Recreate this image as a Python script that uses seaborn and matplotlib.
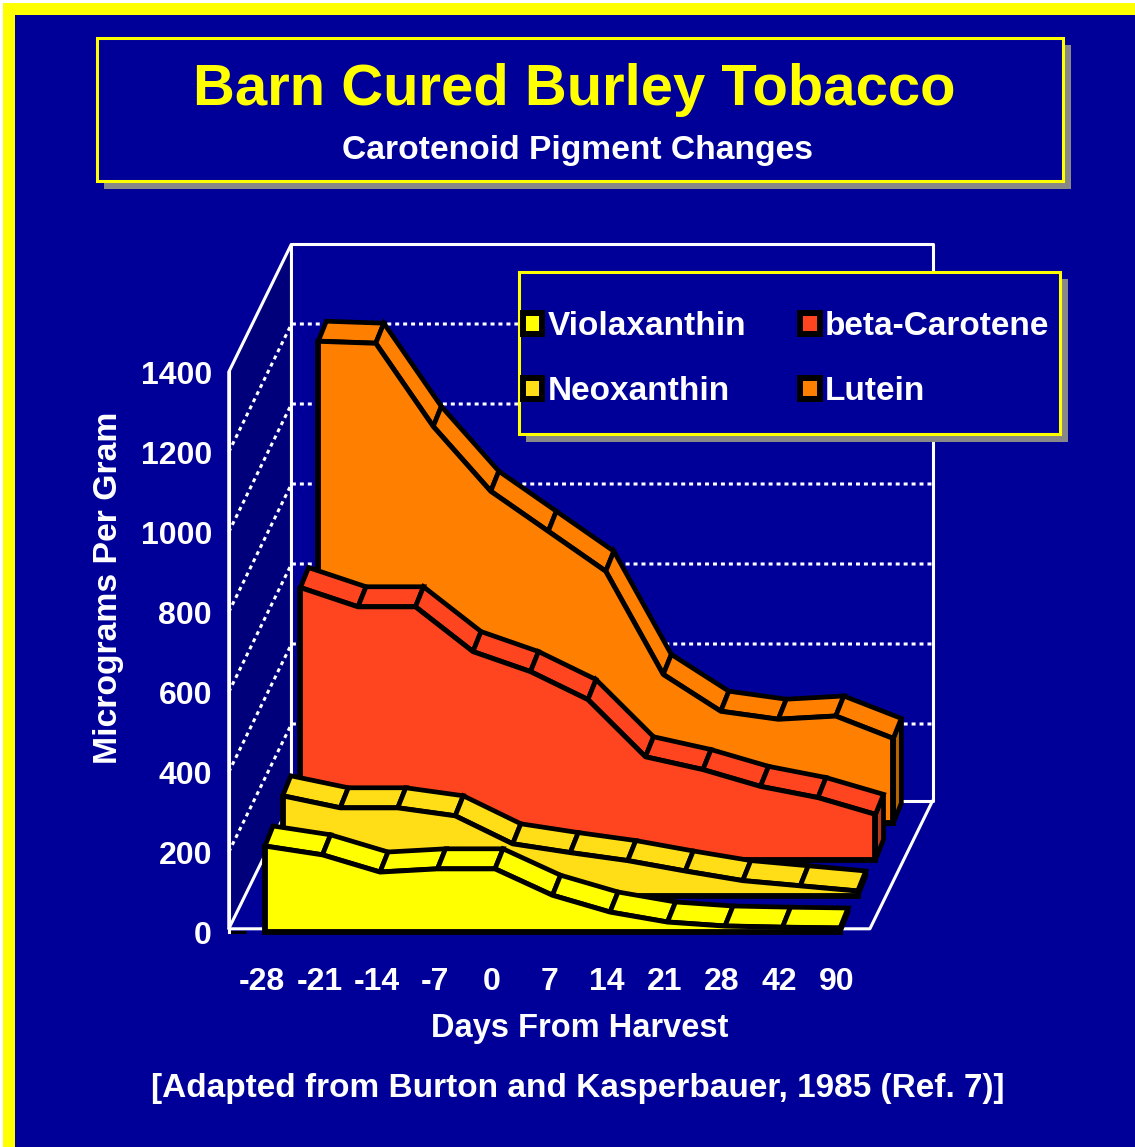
import numpy as np
import pandas as pd
import seaborn as sns
import matplotlib.pyplot as plt
from matplotlib.patches import Polygon, Rectangle, Patch

days = ['-28', '-21', '-14', '-7', '0', '7', '14', '21', '28', '42', '90']
yticks = [0, 200, 400, 600, 800, 1000, 1200, 1400]

# heights, front series first
violaxanthin = [215, 193, 150, 158, 158, 92, 50, 25, 15, 12, 10]
neoxanthin = [250, 220, 220, 200, 130, 108, 88, 62, 38, 25, 12]
beta_carotene = [680, 632, 632, 520, 470, 400, 257, 225, 183, 155, 113]
lutein = [1205, 1200, 992, 830, 730, 630, 372, 280, 260, 268, 212]

names = ['Violaxanthin', 'Neoxanthin', 'beta-Carotene', 'Lutein']
series = [violaxanthin, neoxanthin, beta_carotene, lutein]
colors = ['#ffff00', '#ffde17', '#ff4520', '#ff8000']
side_colors = ['#000000', '#000000', '#b83a1c', '#b86400']

BG = '#000099'
WALL = '#00007a'
W, H = 1135, 1147

# oblique projection: one unit of depth moves this far in data units
DEPTH_X = 1.09
DEPTH_Y = 320
SERIES_Z = [0, 0.283, 0.566, 0.85]
RIB_X = 0.14
RIB_Y = 50
X_LEFT = -0.63
X_RIGHT = 10.52
FLOOR = 8

sns.set_theme(style='white')
plt.rcParams['font.family'] = ['Liberation Sans', 'DejaVu Sans']
plt.rcParams['font.weight'] = 'bold'

fig = plt.figure(figsize=(W / 100, H / 100), dpi=100, facecolor=BG)
ax = fig.add_axes([0, 0, 1, 1], facecolor=BG)
# 57.5 px per category, 0.4 px per microgram
ax.set_xlim(-265 / 57.5, (W - 265) / 57.5)
ax.set_ylim((932 - H) / 0.4, 932 / 0.4)


def pbox(x0, y0, x1, y1, **kw):
    # rectangle given in image pixels, y down
    r = Rectangle((x0 / W, 1 - y1 / H), (x1 - x0) / W, (y1 - y0) / H, transform=fig.transFigure, **kw)
    ax.add_patch(r)
    return r


# outer border, white sliver then yellow
pbox(0, 0, W, 3, fc='white', ec='none', zorder=0.4)
pbox(0, 0, 3, H, fc='white', ec='none', zorder=0.4)
pbox(3, 3, W, 15, fc='#ffff00', ec='none', zorder=0.5)
pbox(3, 3, 15, H, fc='#ffff00', ec='none', zorder=0.5)

# box frame: left wall, back wall, floor
top = yticks[-1]
ax.add_patch(Polygon([(X_LEFT, FLOOR), (X_LEFT, top), (X_LEFT + DEPTH_X, top + DEPTH_Y), (X_LEFT + DEPTH_X, FLOOR + DEPTH_Y)],
                     fc=WALL, ec='white', lw=2.2, zorder=1))
bx0, bx1 = X_LEFT + DEPTH_X, X_RIGHT + DEPTH_X
ax.plot([bx0, bx1, bx1, bx0], [top + DEPTH_Y, top + DEPTH_Y, FLOOR + DEPTH_Y, FLOOR + DEPTH_Y], color='white', lw=2.2, zorder=1)
ax.plot([X_LEFT, X_RIGHT, bx1], [FLOOR, FLOOR, FLOOR + DEPTH_Y], color='white', lw=2.2, zorder=1)
for v in yticks[1:-1]:
    ax.plot([X_LEFT, bx0, bx1], [v, v + DEPTH_Y, v + DEPTH_Y], color='white', lw=2.2,
            ls=(0, (1.3, 1.3)), zorder=1.2)

# series back to front
xs = np.arange(len(days))
for k in range(3, -1, -1):
    z = 2 + (3 - k)
    vals = np.array(series[k], dtype=float)
    fx = xs + SERIES_Z[k] * DEPTH_X
    base = SERIES_Z[k] * DEPTH_Y
    fy = vals + base
    bk_x = fx + RIB_X
    bk_y = fy + RIB_Y
    # right end face
    ax.add_patch(Polygon([(fx[-1], base), (fx[-1], fy[-1]), (bk_x[-1], bk_y[-1]), (bk_x[-1], base + RIB_Y)],
                         fc=side_colors[k], ec='black', lw=3.4, joinstyle='miter', zorder=z))
    # top ribbon, one panel per step
    for i in range(len(days) - 1):
        ax.add_patch(Polygon([(fx[i], fy[i]), (fx[i + 1], fy[i + 1]), (bk_x[i + 1], bk_y[i + 1]), (bk_x[i], bk_y[i])],
                             fc=colors[k], ec='black', lw=3.4, zorder=z + 0.1))
    # front face
    ax.fill_between(fx, base, fy, color=colors[k], lw=0, zorder=z + 0.2)
    sns.lineplot(data=pd.DataFrame({'x': fx, 'y': fy}), x='x', y='y', color='black', lw=3.6, estimator=None, sort=False, ax=ax, zorder=z + 0.3)
    ax.plot([fx[0], fx[0], fx[-1], fx[-1]], [fy[0], base, base, fy[-1]], color='black', lw=4.2,
            solid_joinstyle='miter', zorder=z + 0.3)

# axes: y spine stands at the front-left edge
for s in ['top', 'right', 'bottom']:
    ax.spines[s].set_visible(False)
ax.spines['left'].set_position(('data', X_LEFT))
ax.spines['left'].set_bounds(0, 1400)
ax.spines['left'].set_color('white')
ax.spines['left'].set_linewidth(2.2)
ax.spines['bottom'].set_position(('data', 0))
ax.set_yticks(yticks)
ax.set_xticks(xs - 0.05, days)
ax.tick_params(axis='y', direction='in', length=12, width=2.2, color='black', labelcolor='white', labelsize=23, pad=12, left=True)
ax.tick_params(axis='x', length=0, labelcolor='white', labelsize=23, pad=25)
ax.set_xlabel('Days From Harvest', color='white', fontsize=23.5, fontweight='bold')
ax.xaxis.set_label_coords(580 / W, 1 - 1029 / H)
ax.xaxis.label.set_verticalalignment('center')
ax.set_ylabel('Micrograms Per Gram', color='white', fontsize=24.3, fontweight='bold')
ax.yaxis.set_label_coords(109 / W, 1 - 588 / H)
ax.yaxis.label.set_verticalalignment('center')

# title box
pbox(104, 45, 1071, 189, fc='#888888', ec='none', zorder=20)
pbox(97, 38, 1063, 181, fc=BG, ec='#ffff00', lw=2.2, zorder=21)
fig.text(574 / W, 1 - 90 / H, 'Barn Cured Burley Tobacco', color='#ffff00', fontsize=41.8, fontweight='bold',
         ha='center', va='center', zorder=22)
fig.text(577 / W, 1 - 151 / H, 'Carotenoid Pigment Changes', color='white', fontsize=24.2, fontweight='bold',
         ha='center', va='center', zorder=22)
fig.text(578 / W, 1 - 1089 / H, '[Adapted from Burton and Kasperbauer, 1985 (Ref. 7)]', color='white', fontsize=24,
         fontweight='bold', ha='center', va='center', zorder=22)

# legend sits on its own framed box with a flat shadow
pbox(526, 279, 1068, 442, fc='#888888', ec='none', zorder=20)
pbox(519, 272, 1060, 434, fc=BG, ec='#ffff00', lw=2.2, zorder=21)
handles = [Patch(fc=colors[i], ec='black', lw=4.3, label=names[i]) for i in range(4)]
leg = ax.legend(handles=handles, ncol=2, loc='upper left',
                bbox_to_anchor=(523 / W, 1 - 311 / H), bbox_transform=fig.transFigure,
                borderaxespad=0, borderpad=0, fontsize=24, labelcolor='white', frameon=False,
                handlelength=0.58, handleheight=0.58, handletextpad=0.15,
                labelspacing=1.03, columnspacing=1.63)
leg.set_zorder(22)

fig.savefig('out.png', dpi=100, facecolor=BG)
